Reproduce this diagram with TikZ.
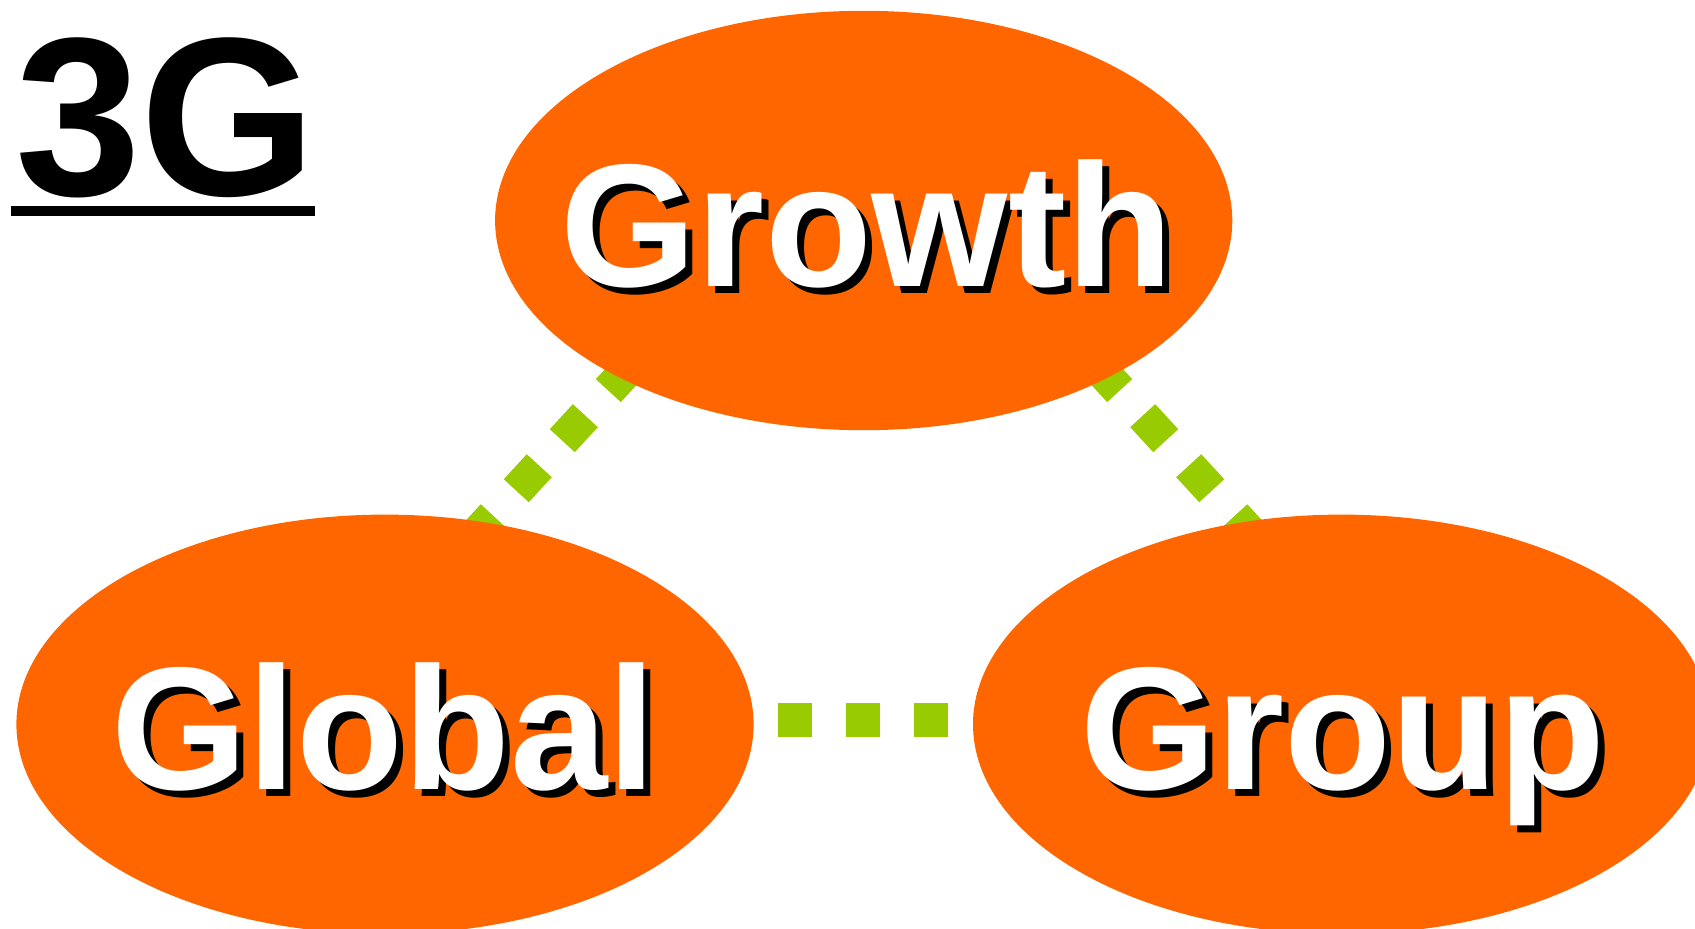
\documentclass[tikz,border=0pt]{standalone}
\usepackage{fontspec}
\setmainfont{Liberation Sans}
\usetikzlibrary{shapes.geometric}
\definecolor{orng}{HTML}{FF6600}
\definecolor{grn}{HTML}{99CC00}
\begin{document}
\begin{tikzpicture}[x=1pt,y=-1pt,
  blob/.style={ellipse, fill=orng, minimum width=737.2pt, minimum height=419.4pt, inner sep=0pt},
  dots/.style={draw=grn, line width=34pt, dash pattern=on 34pt off 34pt},
  word/.style={font=\fontsize{175}{175}\selectfont\bfseries, anchor=base, inner sep=0pt},
  shadowtxt/.style={word, text=black},
  maintxt/.style={word, text=white}]
\useasboundingbox (0,0) rectangle (1695,929);
\clip (0,0) rectangle (1695,929);
% connectors (behind the ellipses)
\coordinate (l1) at (723.4,265.5);
\coordinate (l2) at (447.6,565.4);
\coordinate (r1) at (1004.6,265.5);
\coordinate (r2) at (1280.4,565.4);
\coordinate (h1) at (778,720);
\coordinate (h2) at (948,720);
\draw[dots] (l1) -- (l2);
\draw[dots] (r1) -- (r2);
\draw[dots] (h1) -- (h2);
% ellipses
\node[blob] (growth) at (863.7,220.5) {};
\node[blob] (global) at (385,724.3) {};
\node[blob] (group) at (1341.6,724.3) {};
% texts
\node[shadowtxt] (growthsh) at (874,293) {Growth};
\node[maintxt] (growthtx) at (867,286) {Growth};
\node[shadowtxt] (globalsh) at (391,796) {Global};
\node[maintxt] (globaltx) at (384,789) {Global};
\node[shadowtxt] (groupsh) at (1350,796) {Group};
\node[maintxt] (grouptx) at (1343,789) {Group};
% title
\node[font=\fontsize{226}{226}\selectfont\bfseries, anchor=base west, inner sep=0pt] (title) at (15,195) {3G};
\coordinate (u1) at (11,211);
\coordinate (u2) at (315,211);
\draw[line width=10pt] (u1) -- (u2);
\end{tikzpicture}
\end{document}
